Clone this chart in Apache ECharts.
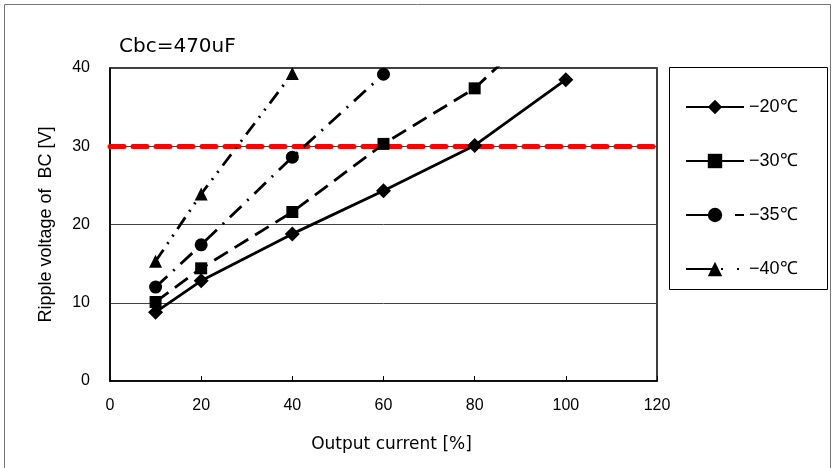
<!DOCTYPE html>
<html><head><meta charset="utf-8">
<script src="https://cdn.jsdelivr.net/npm/echarts@6/dist/echarts.min.js"></script>
<style>html,body{margin:0;padding:0;background:#fff}#c{width:836px;height:468px}</style>
</head><body><div id="c"></div>
<script>
const xValues = [10, 20, 40, 60, 80, 100];
const seriesNames = ['\u221220\u2103', '\u221230\u2103', '\u221235\u2103', '\u221240\u2103'];
const v20 = [8.8, 12.8, 18.8, 24.3, 30.1, 38.5];
const v30 = [10.1, 14.4, 21.6, 30.3, 37.4, 48.4];
const v35 = [12.0, 17.4, 28.6, 39.2];
const v40 = [15.3, 23.9, 39.3];
const limitValue = 30;
const xTicks = [0, 20, 40, 60, 80, 100, 120];
const yTicks = [0, 10, 20, 30, 40];
const titleText = 'Cbc=470uF';
const xName = 'Output current [%]';
const yName = 'Ripple voltage of  BC [V]';

const FONT = '"Liberation Sans", Arial, sans-serif';
const WIDE = '"DejaVu Sans", sans-serif';
const pair = (vals) => vals.map((v, i) => [xValues[i], v]);
const styles = [
  {symbol: 'diamond', size: 15, dash: 'solid', legendDash: 'solid'},
  {symbol: 'rect', size: 12, dash: [16, 8], legendDash: 'solid'},
  {symbol: 'circle', size: 13, dash: [16, 8, 2, 8], legendDash: [35, 14, 9, 20]},
  {symbol: 'triangle', size: 13, dash: [14, 7, 2, 7, 2, 7], legendDash: [30, 5, 2, 14, 2, 20]}
];
const allVals = [v20, v30, v35, v40];
const series = allVals.map((vals, i) => ({
  name: seriesNames[i], type: 'line', data: pair(vals),
  symbol: styles[i].symbol, symbolSize: styles[i].size, clip: true,
  lineStyle: {color: '#000', width: 2.8, type: styles[i].dash},
  itemStyle: {color: '#000'}, z: 5
}));
series.push({
  name: 'limit', type: 'line', data: [], silent: true,
  markLine: {symbol: 'none', silent: true, label: {show: false},
    lineStyle: {color: '#ff0000', width: 5, type: [14, 9], cap: 'round'},
    data: [{yAxis: limitValue}]}
});

const chart = echarts.init(document.getElementById('c'), null, {renderer: 'canvas'});
chart.setOption({
  animation: false,
  backgroundColor: '#fff',
  textStyle: {fontFamily: FONT},
  title: {text: titleText, left: 114, top: 32, textStyle: {fontSize: 20, fontWeight: 'normal', color: '#000', fontFamily: WIDE}},
  grid: {left: 110, right: 179, top: 68, bottom: 87, show: true, borderColor: '#000', borderWidth: 1.5},
  xAxis: {type: 'value', min: xTicks[0], max: xTicks[xTicks.length - 1], interval: 20,
    name: xName, nameLocation: 'middle', nameGap: 55,
    nameTextStyle: {fontSize: 17, color: '#000', fontFamily: WIDE, padding: [0, 0, 0, 16]},
    axisLine: {lineStyle: {color: '#000', width: 1.5}},
    axisTick: {inside: true, length: 5, lineStyle: {color: '#000'}},
    axisLabel: {fontSize: 16, color: '#000', margin: 17},
    splitLine: {show: false}},
  yAxis: {type: 'value', min: yTicks[0], max: yTicks[yTicks.length - 1], interval: 10,
    name: yName, nameLocation: 'middle', nameGap: 55,
    nameTextStyle: {fontSize: 18, color: '#000', fontFamily: FONT},
    axisLine: {lineStyle: {color: '#000', width: 1.5}},
    axisTick: {show: false},
    axisLabel: {fontSize: 16, color: '#000', margin: 20},
    splitLine: {lineStyle: {color: '#444', width: 1}}},
  legend: {orient: 'vertical', left: 680, top: 93, itemGap: 36, itemWidth: 58, itemHeight: 18,
    data: seriesNames.map((n, i) => ({name: n, lineStyle: {type: styles[i].legendDash}})),
    textStyle: {fontSize: 18, color: '#000', fontFamily: FONT}},
  graphic: [
    {type: 'rect', shape: {x: 4.5, y: 4.5, width: 826, height: 470}, style: {fill: 'none', stroke: '#777', lineWidth: 1}, silent: true},
    {type: 'rect', shape: {x: 669.5, y: 67.5, width: 158, height: 222}, style: {fill: 'none', stroke: '#000', lineWidth: 1}, silent: true}
  ],
  series: series
});
</script></body></html>
